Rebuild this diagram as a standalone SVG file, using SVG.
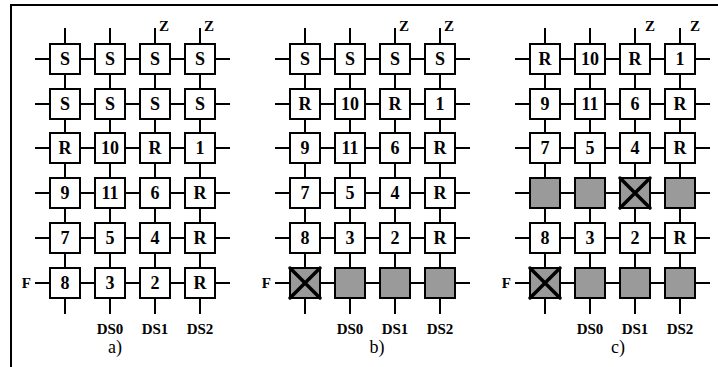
<svg xmlns="http://www.w3.org/2000/svg" width="718" height="367" viewBox="0 0 718 367">
  <style>
    .frame { stroke: #000; stroke-width: 2; fill: none; }
    .wire { stroke: #000; stroke-width: 2; fill: none; }
    .cell { fill: #fff; stroke: #000; stroke-width: 2; }
    .dead { fill: #9a9a9a; stroke: #000; stroke-width: 2; }
    .cross { stroke: #000; stroke-width: 3.5; stroke-linecap: round; }
    text { font-family: "Liberation Serif", "Times New Roman", serif; fill: #000; }
    .lbl { font-weight: bold; font-size: 18px; text-anchor: middle; }
    .port { font-weight: bold; font-size: 15px; }
    .ds { font-weight: bold; font-size: 15px; text-anchor: middle; }
    .cap { font-size: 18px; text-anchor: middle; }
  </style>
  <defs>
    <rect id="box" x="-15" y="-15" width="30" height="30"/>
  </defs>

  <!-- open frame: top and left edges -->
  <path class="frame" d="M11 367 V5 H718"/>

  <!-- mesh wiring for the three grids -->
  <g id="connectors" class="wire">
    <!-- grid a -->
    <path d="M35 59H230 M35 104H230 M35 148H230 M35 193H230 M35 238H230 M35 283H230"/>
    <path d="M65 28V314 M110 28V314 M155 28V314 M200 28V314"/>
    <!-- grid b -->
    <path d="M275 59H470 M275 104H470 M275 148H470 M275 193H470 M275 238H470 M275 283H470"/>
    <path d="M305 28V314 M350 28V314 M395 28V314 M440 28V314"/>
    <!-- grid c -->
    <path d="M515 59H710 M515 104H710 M515 148H710 M515 193H710 M515 238H710 M515 283H710"/>
    <path d="M545 28V314 M590 28V314 M635 28V314 M680 28V314"/>
  </g>

  <!-- ===== grid a ===== -->
  <g id="grid-a">
    <g id="a-r1c1" transform="translate(65 59)"><use href="#box" class="cell"/><text class="lbl" y="6">S</text></g>
    <g id="a-r1c2" transform="translate(110 59)"><use href="#box" class="cell"/><text class="lbl" y="6">S</text></g>
    <g id="a-r1c3" transform="translate(155 59)"><use href="#box" class="cell"/><text class="lbl" y="6">S</text></g>
    <g id="a-r1c4" transform="translate(200 59)"><use href="#box" class="cell"/><text class="lbl" y="6">S</text></g>
    <g id="a-r2c1" transform="translate(65 104)"><use href="#box" class="cell"/><text class="lbl" y="6">S</text></g>
    <g id="a-r2c2" transform="translate(110 104)"><use href="#box" class="cell"/><text class="lbl" y="6">S</text></g>
    <g id="a-r2c3" transform="translate(155 104)"><use href="#box" class="cell"/><text class="lbl" y="6">S</text></g>
    <g id="a-r2c4" transform="translate(200 104)"><use href="#box" class="cell"/><text class="lbl" y="6">S</text></g>
    <g id="a-r3c1" transform="translate(65 148)"><use href="#box" class="cell"/><text class="lbl" y="6">R</text></g>
    <g id="a-r3c2" transform="translate(110 148)"><use href="#box" class="cell"/><text class="lbl" y="6">10</text></g>
    <g id="a-r3c3" transform="translate(155 148)"><use href="#box" class="cell"/><text class="lbl" y="6">R</text></g>
    <g id="a-r3c4" transform="translate(200 148)"><use href="#box" class="cell"/><text class="lbl" y="6">1</text></g>
    <g id="a-r4c1" transform="translate(65 193)"><use href="#box" class="cell"/><text class="lbl" y="6">9</text></g>
    <g id="a-r4c2" transform="translate(110 193)"><use href="#box" class="cell"/><text class="lbl" y="6">11</text></g>
    <g id="a-r4c3" transform="translate(155 193)"><use href="#box" class="cell"/><text class="lbl" y="6">6</text></g>
    <g id="a-r4c4" transform="translate(200 193)"><use href="#box" class="cell"/><text class="lbl" y="6">R</text></g>
    <g id="a-r5c1" transform="translate(65 238)"><use href="#box" class="cell"/><text class="lbl" y="6">7</text></g>
    <g id="a-r5c2" transform="translate(110 238)"><use href="#box" class="cell"/><text class="lbl" y="6">5</text></g>
    <g id="a-r5c3" transform="translate(155 238)"><use href="#box" class="cell"/><text class="lbl" y="6">4</text></g>
    <g id="a-r5c4" transform="translate(200 238)"><use href="#box" class="cell"/><text class="lbl" y="6">R</text></g>
    <g id="a-r6c1" transform="translate(65 283)"><use href="#box" class="cell"/><text class="lbl" y="6">8</text></g>
    <g id="a-r6c2" transform="translate(110 283)"><use href="#box" class="cell"/><text class="lbl" y="6">3</text></g>
    <g id="a-r6c3" transform="translate(155 283)"><use href="#box" class="cell"/><text class="lbl" y="6">2</text></g>
    <g id="a-r6c4" transform="translate(200 283)"><use href="#box" class="cell"/><text class="lbl" y="6">R</text></g>
    <text class="port" x="159" y="31">Z</text>
    <text class="port" x="204" y="31">Z</text>
    <text class="port" x="31" y="288" text-anchor="end">F</text>
    <text class="ds" x="110" y="334">DS0</text>
    <text class="ds" x="155" y="334">DS1</text>
    <text class="ds" x="200" y="334">DS2</text>
    <text class="cap" x="115" y="353">a)</text>
  </g>

  <!-- ===== grid b ===== -->
  <g id="grid-b">
    <g id="b-r1c1" transform="translate(305 59)"><use href="#box" class="cell"/><text class="lbl" y="6">S</text></g>
    <g id="b-r1c2" transform="translate(350 59)"><use href="#box" class="cell"/><text class="lbl" y="6">S</text></g>
    <g id="b-r1c3" transform="translate(395 59)"><use href="#box" class="cell"/><text class="lbl" y="6">S</text></g>
    <g id="b-r1c4" transform="translate(440 59)"><use href="#box" class="cell"/><text class="lbl" y="6">S</text></g>
    <g id="b-r2c1" transform="translate(305 104)"><use href="#box" class="cell"/><text class="lbl" y="6">R</text></g>
    <g id="b-r2c2" transform="translate(350 104)"><use href="#box" class="cell"/><text class="lbl" y="6">10</text></g>
    <g id="b-r2c3" transform="translate(395 104)"><use href="#box" class="cell"/><text class="lbl" y="6">R</text></g>
    <g id="b-r2c4" transform="translate(440 104)"><use href="#box" class="cell"/><text class="lbl" y="6">1</text></g>
    <g id="b-r3c1" transform="translate(305 148)"><use href="#box" class="cell"/><text class="lbl" y="6">9</text></g>
    <g id="b-r3c2" transform="translate(350 148)"><use href="#box" class="cell"/><text class="lbl" y="6">11</text></g>
    <g id="b-r3c3" transform="translate(395 148)"><use href="#box" class="cell"/><text class="lbl" y="6">6</text></g>
    <g id="b-r3c4" transform="translate(440 148)"><use href="#box" class="cell"/><text class="lbl" y="6">R</text></g>
    <g id="b-r4c1" transform="translate(305 193)"><use href="#box" class="cell"/><text class="lbl" y="6">7</text></g>
    <g id="b-r4c2" transform="translate(350 193)"><use href="#box" class="cell"/><text class="lbl" y="6">5</text></g>
    <g id="b-r4c3" transform="translate(395 193)"><use href="#box" class="cell"/><text class="lbl" y="6">4</text></g>
    <g id="b-r4c4" transform="translate(440 193)"><use href="#box" class="cell"/><text class="lbl" y="6">R</text></g>
    <g id="b-r5c1" transform="translate(305 238)"><use href="#box" class="cell"/><text class="lbl" y="6">8</text></g>
    <g id="b-r5c2" transform="translate(350 238)"><use href="#box" class="cell"/><text class="lbl" y="6">3</text></g>
    <g id="b-r5c3" transform="translate(395 238)"><use href="#box" class="cell"/><text class="lbl" y="6">2</text></g>
    <g id="b-r5c4" transform="translate(440 238)"><use href="#box" class="cell"/><text class="lbl" y="6">R</text></g>
    <g id="b-r6c1" transform="translate(305 283)"><use href="#box" class="dead"/><path class="cross" d="M-15 -15L15 15M15 -15L-15 15"/></g>
    <g id="b-r6c2" transform="translate(350 283)"><use href="#box" class="dead"/></g>
    <g id="b-r6c3" transform="translate(395 283)"><use href="#box" class="dead"/></g>
    <g id="b-r6c4" transform="translate(440 283)"><use href="#box" class="dead"/></g>
    <text class="port" x="399" y="31">Z</text>
    <text class="port" x="444" y="31">Z</text>
    <text class="port" x="271" y="288" text-anchor="end">F</text>
    <text class="ds" x="350" y="334">DS0</text>
    <text class="ds" x="395" y="334">DS1</text>
    <text class="ds" x="440" y="334">DS2</text>
    <text class="cap" x="377" y="353">b)</text>
  </g>

  <!-- ===== grid c ===== -->
  <g id="grid-c">
    <g id="c-r1c1" transform="translate(545 59)"><use href="#box" class="cell"/><text class="lbl" y="6">R</text></g>
    <g id="c-r1c2" transform="translate(590 59)"><use href="#box" class="cell"/><text class="lbl" y="6">10</text></g>
    <g id="c-r1c3" transform="translate(635 59)"><use href="#box" class="cell"/><text class="lbl" y="6">R</text></g>
    <g id="c-r1c4" transform="translate(680 59)"><use href="#box" class="cell"/><text class="lbl" y="6">1</text></g>
    <g id="c-r2c1" transform="translate(545 104)"><use href="#box" class="cell"/><text class="lbl" y="6">9</text></g>
    <g id="c-r2c2" transform="translate(590 104)"><use href="#box" class="cell"/><text class="lbl" y="6">11</text></g>
    <g id="c-r2c3" transform="translate(635 104)"><use href="#box" class="cell"/><text class="lbl" y="6">6</text></g>
    <g id="c-r2c4" transform="translate(680 104)"><use href="#box" class="cell"/><text class="lbl" y="6">R</text></g>
    <g id="c-r3c1" transform="translate(545 148)"><use href="#box" class="cell"/><text class="lbl" y="6">7</text></g>
    <g id="c-r3c2" transform="translate(590 148)"><use href="#box" class="cell"/><text class="lbl" y="6">5</text></g>
    <g id="c-r3c3" transform="translate(635 148)"><use href="#box" class="cell"/><text class="lbl" y="6">4</text></g>
    <g id="c-r3c4" transform="translate(680 148)"><use href="#box" class="cell"/><text class="lbl" y="6">R</text></g>
    <g id="c-r4c1" transform="translate(545 193)"><use href="#box" class="dead"/></g>
    <g id="c-r4c2" transform="translate(590 193)"><use href="#box" class="dead"/></g>
    <g id="c-r4c3" transform="translate(635 193)"><use href="#box" class="dead"/><path class="cross" d="M-15 -15L15 15M15 -15L-15 15"/></g>
    <g id="c-r4c4" transform="translate(680 193)"><use href="#box" class="dead"/></g>
    <g id="c-r5c1" transform="translate(545 238)"><use href="#box" class="cell"/><text class="lbl" y="6">8</text></g>
    <g id="c-r5c2" transform="translate(590 238)"><use href="#box" class="cell"/><text class="lbl" y="6">3</text></g>
    <g id="c-r5c3" transform="translate(635 238)"><use href="#box" class="cell"/><text class="lbl" y="6">2</text></g>
    <g id="c-r5c4" transform="translate(680 238)"><use href="#box" class="cell"/><text class="lbl" y="6">R</text></g>
    <g id="c-r6c1" transform="translate(545 283)"><use href="#box" class="dead"/><path class="cross" d="M-15 -15L15 15M15 -15L-15 15"/></g>
    <g id="c-r6c2" transform="translate(590 283)"><use href="#box" class="dead"/></g>
    <g id="c-r6c3" transform="translate(635 283)"><use href="#box" class="dead"/></g>
    <g id="c-r6c4" transform="translate(680 283)"><use href="#box" class="dead"/></g>
    <text class="port" x="645" y="31">Z</text>
    <text class="port" x="690" y="31">Z</text>
    <text class="port" x="511" y="288" text-anchor="end">F</text>
    <text class="ds" x="590" y="334">DS0</text>
    <text class="ds" x="635" y="334">DS1</text>
    <text class="ds" x="680" y="334">DS2</text>
    <text class="cap" x="618" y="353">c)</text>
  </g>
</svg>
